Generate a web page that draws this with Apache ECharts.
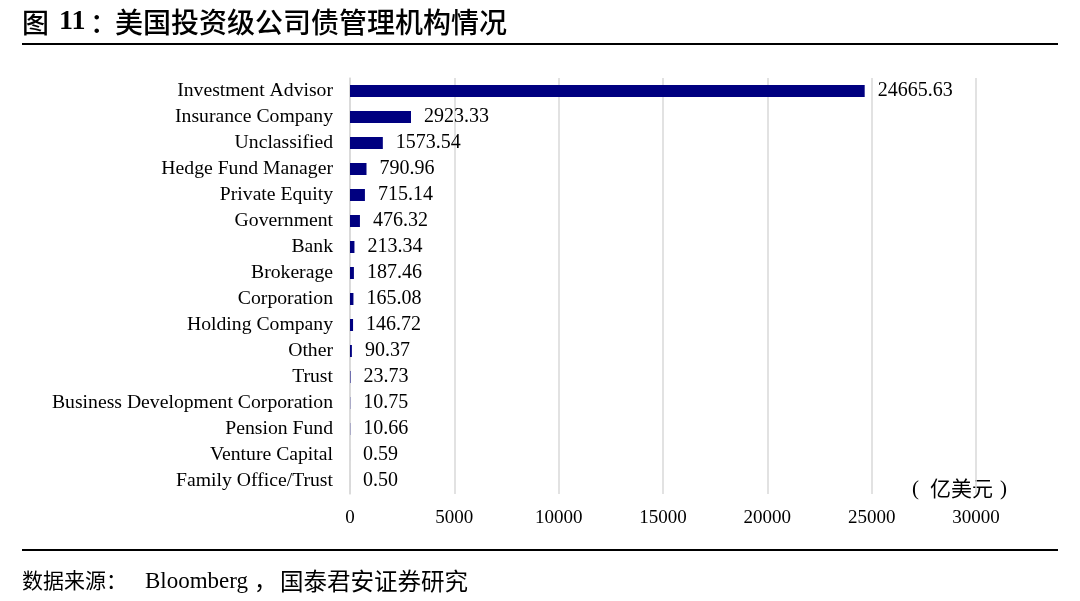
<!DOCTYPE html>
<html><head><meta charset="utf-8">
<script src="https://cdn.jsdelivr.net/npm/echarts@6/dist/echarts.min.js"></script>
<style>html,body{margin:0;padding:0;background:#fff}#c{width:1080px;height:601px}</style>
</head><body><div id="c"></div>
<script>
const categories = ["Investment Advisor","Insurance Company","Unclassified","Hedge Fund Manager","Private Equity","Government","Bank","Brokerage","Corporation","Holding Company","Other","Trust","Business Development Corporation","Pension Fund","Venture Capital","Family Office/Trust"];
const values = [24665.63,2923.33,1573.54,790.96,715.14,476.32,213.34,187.46,165.08,146.72,90.37,23.73,10.75,10.66,0.59,0.50];
const xTicks = [0,5000,10000,15000,20000,25000,30000];
const titleText = "美国投资级公司债管理机构情况";
const unitText = "亿美元";

const serif = "'Liberation Serif','DejaVu Serif',serif";
const cjk = "'Noto Sans CJK SC',sans-serif";
const chart = echarts.init(document.getElementById('c'));
chart.setOption({
  animation:false,
  backgroundColor:'#fff',
  grid:{left:350,right:104,top:78,height:416,containLabel:false},
  xAxis:{type:'value',min:xTicks[0],max:xTicks[xTicks.length-1],interval:5000,
    axisLine:{show:false},axisTick:{show:false},
    splitLine:{show:true,lineStyle:{color:'#d9d9d9',width:1.5}},
    axisLabel:{fontFamily:serif,fontSize:19,color:'#000',margin:15,formatter:v=>String(v)}},
  yAxis:{type:'category',inverse:true,data:categories,
    axisLine:{show:true,lineStyle:{color:'#d9d9d9',width:1.5}},axisTick:{show:false},
    axisLabel:{interval:0,hideOverlap:false,fontFamily:serif,fontSize:19.7,color:'#000',margin:17,padding:[5,0,0,0]}},
  series:[{type:'bar',data:values,barWidth:12,itemStyle:{color:'#000080'},
    label:{show:true,position:'right',distance:13,fontFamily:serif,fontSize:20,color:'#000',padding:[5,0,0,0],
      formatter:p=>values[p.dataIndex].toFixed(2)}}],
  graphic:[
    {type:'text',left:22,top:9,style:{text:'图',font:"500 27px 'Noto Sans CJK SC'",fill:'#000'}},
    {type:'text',left:59,top:8,style:{text:'11',font:"bold 28px 'Liberation Serif'",fill:'#000'}},
    {type:'text',left:90,top:9,style:{text:'：',font:"500 27px 'Noto Sans CJK SC'",fill:'#000'}},
    {type:'text',left:115,top:8,style:{text:titleText,font:"500 28px 'Noto Sans CJK SC'",fill:'#000'}},
    {type:'rect',shape:{x:22,y:43,width:1036,height:2},style:{fill:'#000'}},
    {type:'rect',shape:{x:22,y:549,width:1036,height:2},style:{fill:'#000'}},
    {type:'text',left:912,top:479,style:{text:'(',font:"21px 'Liberation Serif'",fill:'#000'}},
    {type:'text',left:930,top:478,style:{text:unitText,font:"21px 'Noto Sans CJK SC'",fill:'#000'}},
    {type:'text',left:1000,top:479,style:{text:')',font:"21px 'Liberation Serif'",fill:'#000'}},
    {type:'text',left:22,top:570,style:{text:'数据来源：',font:"21px 'Noto Sans CJK SC'",fill:'#000'}},
    {type:'text',left:145,top:570,style:{text:'Bloomberg',font:"23px 'Liberation Serif'",fill:'#000'}},
    {type:'text',left:254,top:569,style:{text:'，',font:"23px 'Noto Sans CJK SC'",fill:'#000'}},
    {type:'text',left:280,top:569,style:{text:'国泰君安证券研究',font:"23.5px 'Noto Sans CJK SC'",fill:'#000'}}
  ]
});
</script></body></html>
